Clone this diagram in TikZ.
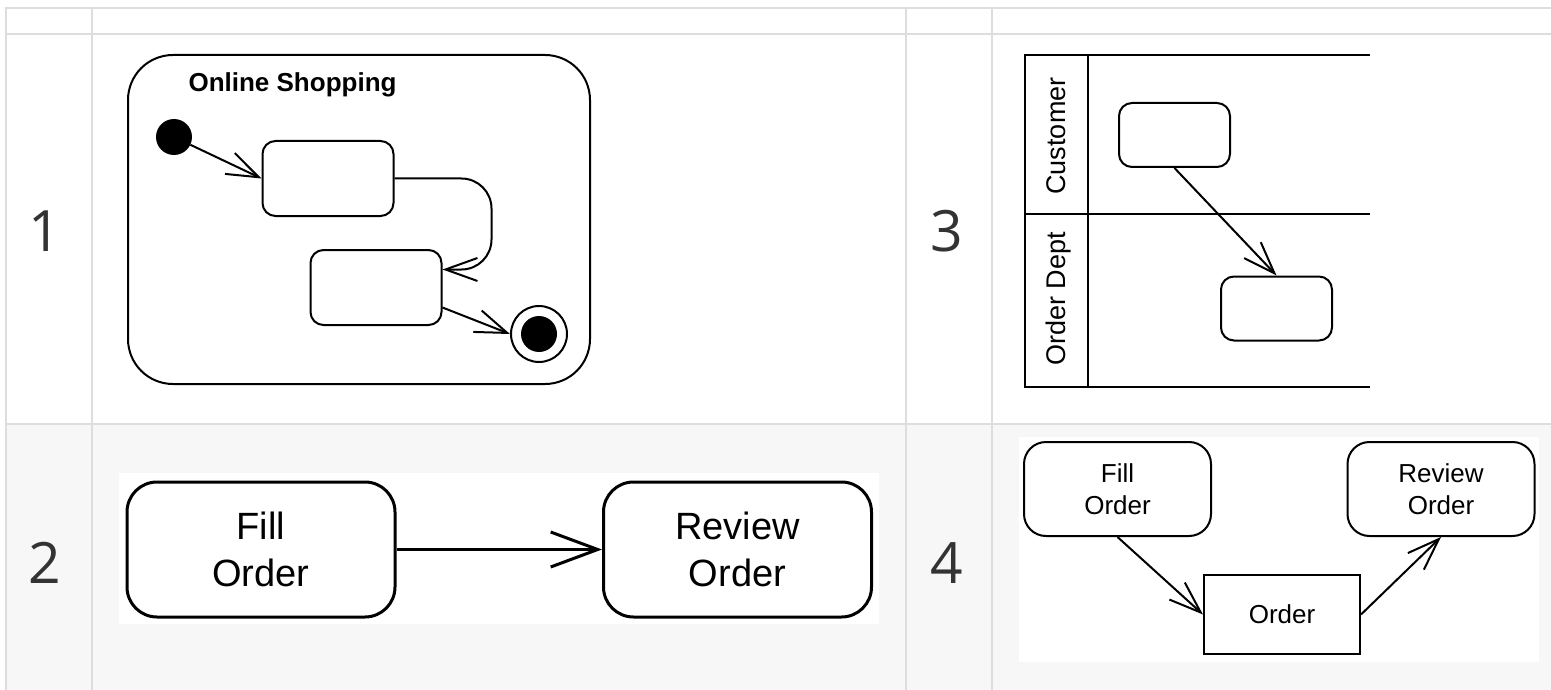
\documentclass[tikz,border=0pt]{standalone}
\usepackage{fontspec}
\setmainfont{Liberation Sans}
\newfontfamily\numfont{Open Sans}
\usetikzlibrary{arrows.meta}
\definecolor{gridgray}{HTML}{DDDDDD}
\definecolor{rowgray}{HTML}{F7F7F7}
\definecolor{numgray}{HTML}{333333}

\begin{document}
\begin{tikzpicture}[x=1pt,y=-1pt,
		grid/.style={draw=gridgray,line width=2pt},
		num/.style={anchor=base,text=numgray,font=\numfont\fontsize{57}{60}\selectfont},
		state/.style={draw,line width=2pt,rounded corners=13pt,inner sep=0pt,minimum width=131pt,minimum height=75pt},
		lane/.style={line width=2pt},
		lanelabel/.style={rotate=90,anchor=base,font=\fontsize{27}{30}\selectfont},
		flow/.style={line width=2pt,-{Straight Barb[length=32pt,width=23pt]}},
		bigstate/.style={draw,line width=3pt,rounded corners=30pt,inner sep=0pt,minimum width=268pt,minimum height=135pt,align=center,font=\fontsize{38}{47}\selectfont},
		bigflow/.style={line width=3pt,-{Straight Barb[length=47pt,width=35pt]}},
		smallstate/.style={draw,line width=2pt,rounded corners=22pt,inner sep=0pt,minimum width=187pt,minimum height=94pt,align=center,font=\fontsize{26}{32}\selectfont}
	]
	\useasboundingbox (0,0) rectangle (1551,690);
	\fill[white] (0,0) rectangle (1551,690);
	\fill[rowgray] (6,424) rectangle (1551,690);
	\foreach \y in {8,34,424}
		\draw[grid] (5,\y) -- (1551,\y);
	\foreach \x in {6,92,906,992}
		\draw[grid] (\x,7) -- (\x,690);
	\node[num] (n1) at (45,251) {1};
	\node[num] (n2) at (45,583) {2};
	\node[num] (n3) at (947,251) {3};
	\node[num] (n4) at (947,583) {4};
	% 1
	\node[draw,line width=2pt,rounded corners=45pt,inner sep=0pt,minimum width=462pt,minimum height=329pt] (shop) at (359,219.5) {};
	\node[anchor=base west,font=\bfseries\fontsize{26}{30}\selectfont] (title) at (185,92) {Online Shopping};
	\node[circle,fill,inner sep=0pt,minimum size=36pt] (init) at (174,137) {};
	\node[state] (s1) at (328,178.5) {};
	\node[state] (s2) at (376,287.5) {};
	\node[circle,draw,line width=2pt,inner sep=0pt,minimum size=56pt] (fin) at (539,334) {};
	\fill (fin) circle[radius=18pt];
	\draw[flow] (init) -- (s1.west);
	\draw[flow,rounded corners=30pt] (s1.east) -- ++(97,0) |- ([yshift=18pt]s2.east);
	\draw[flow] ([yshift=-20pt]s2.east) -- (fin.west);
	% 3
	\draw[lane] (1370,55) -- (1025,55) -- (1025,387) -- (1370,387);
	\draw[lane] (1025,214) -- (1370,214);
	\draw[lane] (1088,55) -- (1088,387);
	\node[lanelabel] (cust) at (1065,136) {Customer};
	\node[lanelabel] (dept) at (1065,299) {Order Dept};
	\node[state,minimum width=111pt,minimum height=64pt] (a) at (1174.5,135) {};
	\node[state,minimum width=111pt,minimum height=64pt] (b) at (1276.5,308.5) {};
	\draw[flow] (a.south) -- (b.north);
	% 2
	\fill[white] (119,473) rectangle (879,624);
	\node[bigstate] (fill2) at (261,549.5) {Fill\\Order};
	\node[bigstate] (review2) at (737.5,549.5) {Review\\Order};
	\draw[bigflow] (fill2) -- (review2);
	% 4
	\fill[white] (1019,437) rectangle (1539,662);
	\node[smallstate] (fill4) at (1117.5,489) {Fill\\Order};
	\node[smallstate] (review4) at (1441,489) {Review\\Order};
	\node[draw,line width=2pt,inner sep=0pt,minimum width=156pt,minimum height=79pt,font=\fontsize{26}{32}\selectfont] (order4) at (1282,614.5) {Order};
	\draw[flow] (fill4.south) -- (order4.west);
	\draw[flow] (order4.east) -- (review4.south);
\end{tikzpicture}
\end{document}
